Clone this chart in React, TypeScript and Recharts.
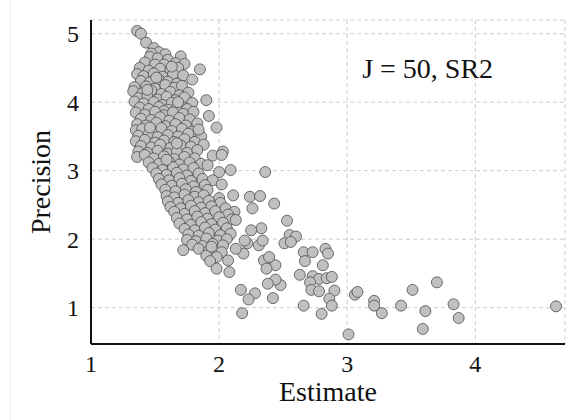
import React from "react";
import {
  ScatterChart,
  Scatter,
  XAxis,
  YAxis,
  CartesianGrid,
  ReferenceDot,
} from "recharts";

// [estimate, precision] pairs
const upperCluster: [number, number][] = [
  [1.36, 5.04], [1.39, 5.0], [1.43, 4.87], [1.49, 4.79], [1.53, 4.73], [1.47, 4.71],
  [1.46, 4.66], [1.58, 4.7], [1.52, 4.64], [1.6, 4.62], [1.7, 4.67], [1.66, 4.57],
  [1.73, 4.56], [1.57, 4.55], [1.42, 4.58], [1.5, 4.55], [1.38, 4.5], [1.45, 4.46],
  [1.54, 4.49], [1.62, 4.47], [1.68, 4.5], [1.85, 4.48], [1.36, 4.41], [1.41, 4.38],
  [1.49, 4.42], [1.56, 4.37], [1.64, 4.41], [1.72, 4.39], [1.39, 4.31], [1.46, 4.29],
  [1.53, 4.33], [1.6, 4.3], [1.67, 4.27], [1.79, 4.33], [1.34, 4.22], [1.43, 4.23],
  [1.5, 4.2], [1.58, 4.25], [1.65, 4.21], [1.71, 4.24], [1.33, 4.16], [1.4, 4.13],
  [1.47, 4.17], [1.55, 4.12], [1.62, 4.15], [1.69, 4.1], [1.76, 4.14], [1.37, 4.06],
  [1.44, 4.09], [1.52, 4.04], [1.59, 4.08], [1.66, 4.03], [1.73, 4.07], [1.34, 4.01],
  [1.41, 3.98], [1.49, 4.0], [1.56, 3.96], [1.63, 3.99], [1.7, 3.95], [1.79, 3.99],
  [1.9, 4.03], [1.38, 3.92], [1.45, 3.9], [1.53, 3.93], [1.6, 3.89], [1.67, 3.92],
  [1.75, 3.9], [1.51, 4.36], [1.63, 4.52], [1.44, 4.18], [1.68, 4.0], [1.57, 3.87],
];

const middleCluster: [number, number][] = [
  [1.35, 3.85], [1.42, 3.82], [1.5, 3.86], [1.57, 3.81], [1.64, 3.85], [1.72, 3.83],
  [1.8, 3.86], [1.39, 3.76], [1.47, 3.74], [1.54, 3.78], [1.61, 3.73], [1.69, 3.77],
  [1.77, 3.75], [1.92, 3.8], [1.36, 3.68], [1.43, 3.66], [1.51, 3.7], [1.58, 3.65],
  [1.66, 3.68], [1.74, 3.66], [1.83, 3.69], [1.35, 3.59], [1.4, 3.61], [1.48, 3.57],
  [1.55, 3.62], [1.63, 3.58], [1.71, 3.61], [1.79, 3.57], [1.98, 3.63], [1.37, 3.51],
  [1.45, 3.53], [1.52, 3.49], [1.6, 3.52], [1.68, 3.5], [1.76, 3.54], [1.86, 3.5],
  [1.35, 3.43], [1.42, 3.45], [1.5, 3.41], [1.57, 3.44], [1.65, 3.42], [1.73, 3.46],
  [1.81, 3.42], [1.39, 3.36], [1.47, 3.34], [1.54, 3.38], [1.62, 3.33], [1.7, 3.37],
  [1.78, 3.35], [1.88, 3.38], [1.37, 3.28], [1.44, 3.26], [1.52, 3.29], [1.6, 3.25],
  [1.67, 3.28], [1.75, 3.26], [1.83, 3.3], [2.03, 3.28], [1.36, 3.2], [1.42, 3.23],
  [1.49, 3.18], [1.57, 3.21], [1.65, 3.17], [1.73, 3.2], [1.81, 3.18], [1.95, 3.22],
  [1.45, 3.12], [1.53, 3.1], [1.61, 3.13], [1.69, 3.09], [1.77, 3.12], [1.86, 3.1],
  [2.02, 3.23], [1.48, 3.04], [1.56, 3.01], [1.64, 3.05], [1.72, 3.02], [1.8, 3.04],
  [1.91, 3.08], [2.09, 3.01], [1.46, 3.63], [1.67, 3.4], [1.59, 3.16], [1.84, 3.6],
];

const lowerCluster: [number, number][] = [
  [1.51, 2.96], [1.59, 2.94], [1.67, 2.97], [1.75, 2.93], [1.84, 2.96], [2.0, 2.98],
  [1.53, 2.88], [1.61, 2.86], [1.69, 2.89], [1.78, 2.85], [1.87, 2.88], [1.95, 2.86],
  [1.55, 2.8], [1.63, 2.78], [1.71, 2.81], [1.8, 2.77], [1.89, 2.79], [2.02, 2.8],
  [1.58, 2.72], [1.66, 2.7], [1.74, 2.73], [1.82, 2.69], [1.91, 2.72], [1.59, 2.63],
  [1.65, 2.61], [1.73, 2.65], [1.81, 2.62], [1.88, 2.64], [2.0, 2.6], [2.11, 2.64],
  [1.6, 2.55], [1.68, 2.53], [1.76, 2.57], [1.84, 2.54], [1.92, 2.56], [2.01, 2.53],
  [1.62, 2.47], [1.7, 2.45], [1.78, 2.49], [1.86, 2.46], [1.94, 2.48], [2.05, 2.45],
  [2.12, 2.4], [1.65, 2.4], [1.73, 2.37], [1.81, 2.41], [1.89, 2.38], [1.97, 2.41],
  [2.07, 2.36], [1.67, 2.31], [1.75, 2.29], [1.83, 2.33], [1.91, 2.3], [2.0, 2.32],
  [2.1, 2.29], [1.69, 2.23], [1.78, 2.21], [1.86, 2.25], [1.94, 2.22], [2.03, 2.24],
  [2.13, 2.28], [1.73, 2.15], [1.81, 2.13], [1.89, 2.17], [1.97, 2.14], [2.06, 2.16],
  [1.76, 2.07], [1.84, 2.05], [1.92, 2.09], [2.01, 2.06], [2.09, 2.08], [1.75, 1.99],
  [1.82, 1.97], [1.9, 2.01], [1.99, 1.98], [2.06, 2.0], [1.79, 1.92], [1.87, 1.9],
  [1.95, 1.93], [2.03, 1.91], [1.72, 1.84], [1.84, 1.86], [1.92, 1.83], [2.02, 1.81],
  [1.9, 1.76], [1.98, 1.74], [1.94, 1.89], [1.93, 1.68], [2.07, 1.69], [1.98, 1.57],
  [2.08, 1.52],
];

const tail: [number, number][] = [
  [2.36, 2.98], [2.43, 2.52], [2.53, 2.27], [2.55, 2.06], [2.6, 2.04], [2.51, 1.94],
  [2.56, 1.96], [2.66, 1.81], [2.73, 1.81], [2.67, 1.68], [2.83, 1.86], [2.85, 1.79],
  [2.81, 1.62], [2.63, 1.48], [2.73, 1.46], [2.78, 1.42], [2.84, 1.43], [2.71, 1.37],
  [2.72, 1.26], [2.78, 1.24], [2.9, 1.25], [2.86, 1.13], [2.88, 1.03], [2.66, 1.03],
  [2.8, 0.91], [3.06, 1.19], [3.08, 1.23], [3.21, 1.1], [3.21, 1.03], [3.27, 0.92],
  [3.01, 0.61], [2.17, 1.26], [2.28, 1.21], [2.23, 1.12], [2.18, 0.92], [2.42, 1.14],
  [2.48, 1.33], [2.44, 1.41], [2.38, 1.35], [2.38, 1.62], [2.44, 1.62], [2.35, 1.69],
  [2.39, 1.74], [2.37, 1.57], [2.33, 2.16], [2.25, 2.13], [2.24, 2.62], [2.26, 2.45],
  [2.32, 2.63], [2.22, 1.94], [2.31, 1.91], [2.34, 1.98], [2.19, 1.79], [2.13, 1.86],
  [2.2, 1.98], [2.88, 1.45], [3.42, 1.03], [3.51, 1.26], [3.61, 0.95], [3.7, 1.37],
  [3.59, 0.69], [3.83, 1.05], [3.87, 0.85], [4.63, 1.02],
];

const xTicks = [1, 2, 3, 4];
const yTicks = [1, 2, 3, 4, 5];
const annotation = "J = 50, SR2";

const data = [...upperCluster, ...middleCluster, ...lowerCluster, ...tail].map(
  ([estimate, precision]) => ({ estimate, precision })
);

const font = "Liberation Serif, DejaVu Serif, Noto Serif, serif";

const Bubble = (props: any) => (
  <circle cx={props.cx} cy={props.cy} r={5.5} fill="#c0c0c0" stroke="#4d4d4d" strokeWidth={0.8} />
);

export default function App() {
  return (
    <div
      style={{
        position: "absolute",
        left: 0,
        top: 0,
        width: 575,
        height: 420,
        background: "#fff",
        fontFamily: font,
      }}
    >
      <div style={{ position: "absolute", left: 10, top: 0, width: 1, height: 420, background: "#efefef" }} />
      <ScatterChart
        width={575}
        height={420}
        margin={{ top: 20, right: 10, bottom: 0, left: 0 }}
        style={{ fontFamily: font }}
      >
        <CartesianGrid stroke="#cccccc" strokeDasharray="4 3" />
        <XAxis
          type="number"
          dataKey="estimate"
          domain={[1, 4.7]}
          ticks={xTicks}
          allowDataOverflow
          height={76}
          axisLine={{ stroke: "#111", strokeWidth: 2 }}
          tickLine={false}
          tickMargin={5}
          tick={{ fill: "#111", fontSize: 24, fontFamily: font }}
          label={{
            value: "Estimate",
            position: "insideBottom",
            offset: 19,
            fill: "#111",
            fontSize: 28,
            fontFamily: font,
          }}
        />
        <YAxis
          type="number"
          dataKey="precision"
          domain={[0.47, 5.2]}
          ticks={yTicks}
          allowDataOverflow
          width={91}
          axisLine={{ stroke: "#111", strokeWidth: 2 }}
          tickLine={false}
          tickMargin={6}
          tick={{ fill: "#111", fontSize: 24, fontFamily: font }}
          label={{
            value: "Precision",
            angle: -90,
            position: "center",
            dx: -5,
            fill: "#111",
            fontSize: 28,
            fontFamily: font,
          }}
        />
        <Scatter data={data} shape={Bubble} isAnimationActive={false} />
        <ReferenceDot
          x={3.07}
          y={4.5}
          r={1}
          fill="none"
          stroke="none"
          label={{ value: annotation, position: "right", fill: "#111", fontSize: 28, fontFamily: font }}
        />
      </ScatterChart>
    </div>
  );
}
